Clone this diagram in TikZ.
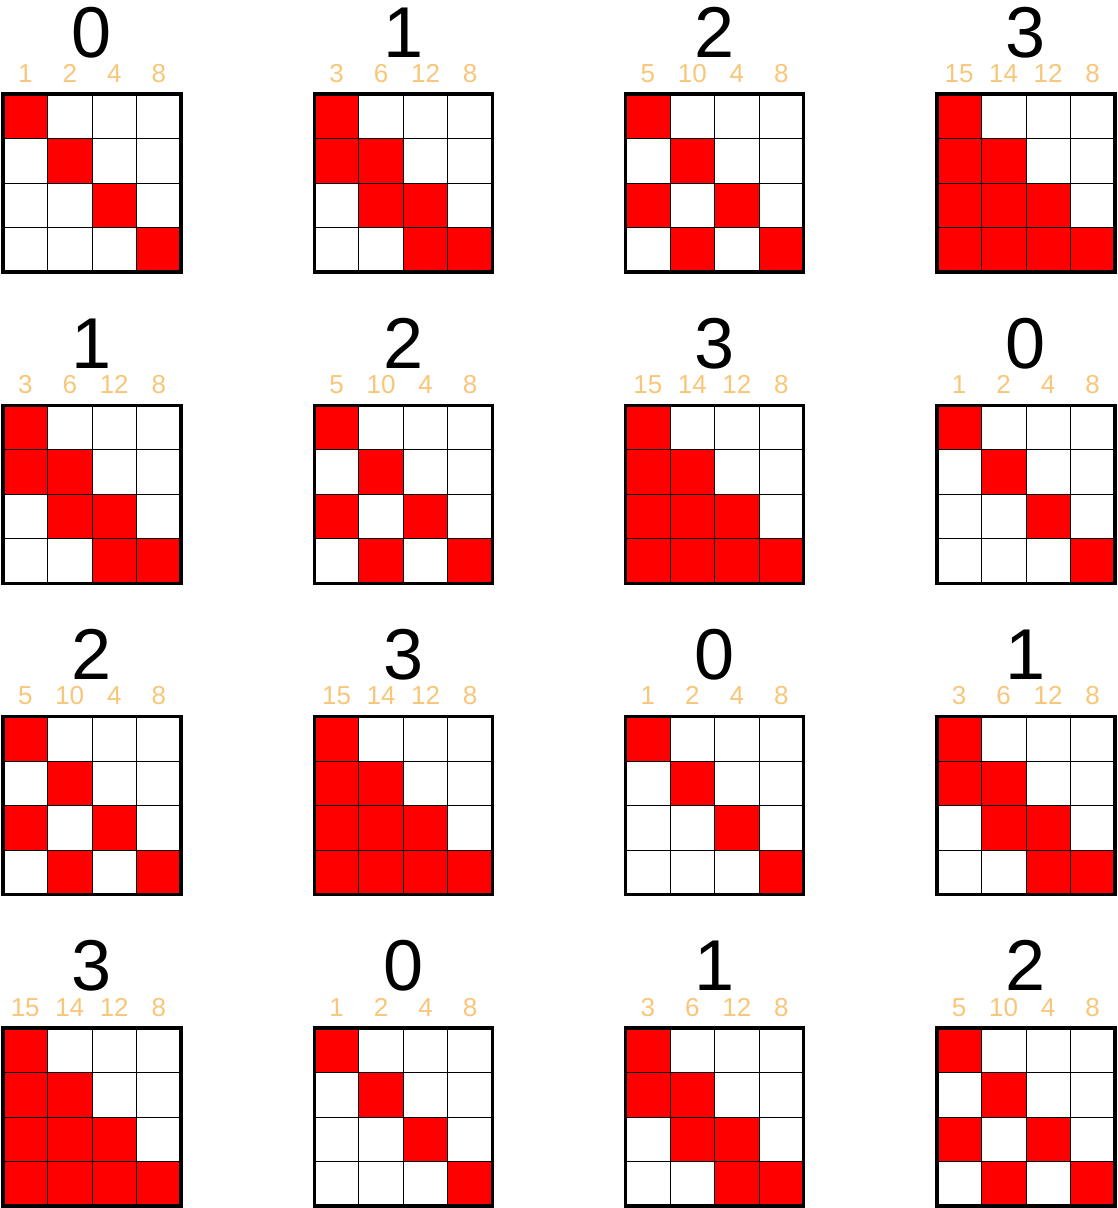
\documentclass[tikz,border=0pt]{standalone}
\usepackage{fontspec}
\setmainfont{Liberation Sans}
\usetikzlibrary{positioning,backgrounds}
\definecolor{maskorange}{RGB}{248,198,122}
\tikzstyle{mbox}=[rectangle, draw=black, line width=3.5pt, minimum size=178pt, inner sep=0pt, outer sep=0pt]
\tikzstyle{gline}=[-, line width=0.8pt, black]
\tikzstyle{ttl}=[anchor=base, inner sep=0pt, font=\fontsize{72}{72}\selectfont]
\tikzstyle{mlab}=[anchor=base, inner sep=0pt, text=maskorange, font=\fontsize{26}{26}\selectfont]

\begin{document}
\begin{tikzpicture}[x=1pt, y=1pt, node distance=133.3pt]
\useasboundingbox (0,0) rectangle (1118,-1208);
% the sixteen frames
\node (M00) [mbox] at (92,-183) {};
\node (M01) [mbox, right=of M00] {};
\node (M02) [mbox, right=of M01] {};
\node (M03) [mbox, right=of M02] {};
\node (M10) [mbox, below=of M00] {};
\node (M11) [mbox, right=of M10] {};
\node (M12) [mbox, right=of M11] {};
\node (M13) [mbox, right=of M12] {};
\node (M20) [mbox, below=of M10] {};
\node (M21) [mbox, right=of M20] {};
\node (M22) [mbox, right=of M21] {};
\node (M23) [mbox, right=of M22] {};
\node (M30) [mbox, below=of M20] {};
\node (M31) [mbox, right=of M30] {};
\node (M32) [mbox, right=of M31] {};
\node (M33) [mbox, right=of M32] {};
% titles, masks and red cells
\foreach \r in {0,...,3}{
 \foreach \c in {0,...,3}{
  \pgfmathtruncatemacro{\k}{mod(\r+\c,4)}
  \node (T\r\c) [ttl] at ([yshift=37pt]M\r\c.north) {\k};
  \begin{scope}[shift={(M\r\c.north west)}]
   \foreach \j in {0,...,3}{
    \pgfmathtruncatemacro{\v}{{1,2,4,8,3,6,12,8,5,10,4,8,15,14,12,8}[4*\k+\j]}
    \node (L\r\c\j) [mlab] at (44.5*\j+22.25,11.7) {\v};
    \begin{pgfonlayer}{background}
    \foreach \i in {0,...,3}{
     \pgfmathtruncatemacro{\b}{mod(floor(\v/2^\i),2)}
     \ifnum\b=1 \fill[red] (44.5*\j,-44.5*\i) rectangle +(44.5,-44.5); \fi
    }
    \end{pgfonlayer}
   }
   \begin{pgfonlayer}{background}
   \foreach \g in {1,2,3}{
    \draw[gline] (44.5*\g,0) -- (44.5*\g,-178);
    \draw[gline] (0,-44.5*\g) -- (178,-44.5*\g);
   }
   \end{pgfonlayer}
  \end{scope}
 }}
\end{tikzpicture}
\end{document}
